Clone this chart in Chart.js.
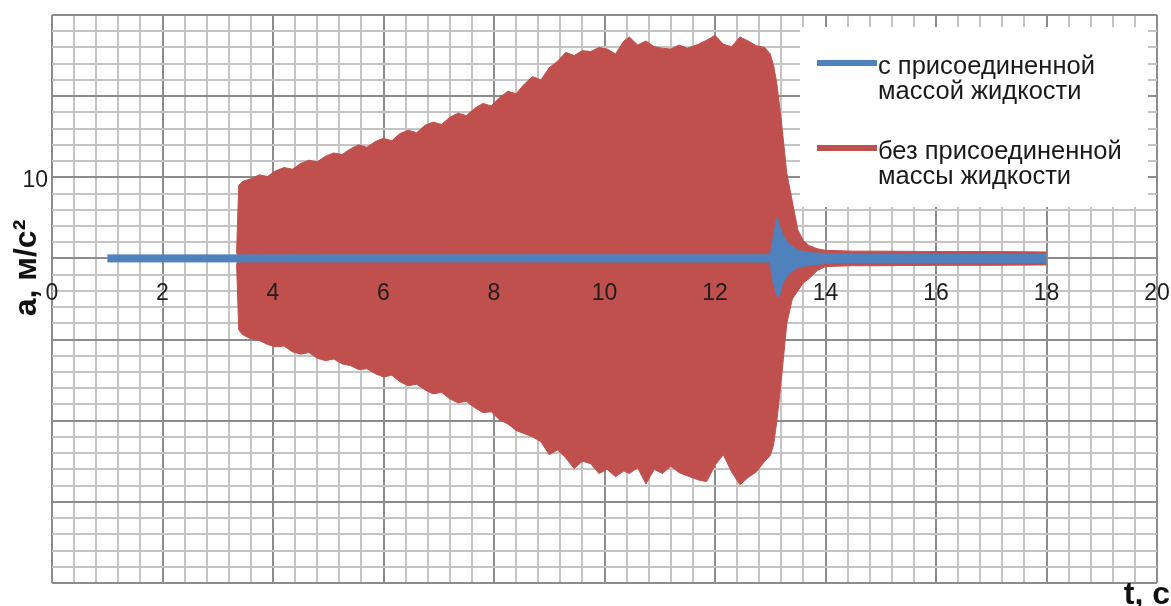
<!DOCTYPE html>
<html lang="ru">
<head>
<meta charset="utf-8">
<title>Ускорение</title>
<script src="https://cdn.jsdelivr.net/npm/chart.js@4.4.0/dist/chart.umd.min.js"></script>
<style>
  html, body { margin: 0; padding: 0; background: #fff; }
  #wrap { width: 1171px; height: 606px; position: relative; }
</style>
</head>
<body>
<div id="wrap"><canvas id="myChart"></canvas></div>
<script>
// Данные: огибающие сигналов, t в секундах, a в м/с²
// без присоединенной массы жидкости — верхняя и нижняя огибающие
const redT = [3.34, 3.38, 3.45, 3.6, 3.75, 3.9, 4.05, 4.2, 4.35, 4.5, 4.65, 4.8, 4.95, 5.1, 5.25, 5.4,
  5.55, 5.7, 5.85, 6.0, 6.15, 6.3, 6.45, 6.6, 6.75, 6.9, 7.05, 7.2, 7.35, 7.5, 7.65, 7.8, 7.95, 8.1,
  8.25, 8.4, 8.55, 8.7, 8.85, 9.0, 9.15, 9.3, 9.45, 9.6, 9.75, 9.9, 10.05, 10.2, 10.35, 10.45, 10.6,
  10.75, 10.9, 11.05, 11.2, 11.35, 11.5, 11.7, 11.85, 12.0, 12.15, 12.3, 12.45, 12.6, 12.75, 12.9,
  13.0, 13.06, 13.12, 13.2, 13.3, 13.4, 13.5, 13.6, 13.7, 13.85, 14.0, 14.5, 15.0, 16.0, 17.0, 18.0];
const redUp = [0.6, 9.0, 9.5, 9.8, 10.3, 10.1, 10.8, 11.2, 11.0, 11.7, 12.1, 11.9, 12.6, 13.0, 12.8, 13.5,
  14.0, 13.7, 14.4, 14.8, 14.5, 15.4, 15.8, 15.5, 16.4, 16.8, 16.5, 17.4, 17.9, 17.6, 18.5, 19.1, 18.8, 19.8,
  20.6, 20.3, 21.5, 22.4, 22.0, 23.5, 24.3, 25.4, 25.0, 25.6, 25.5, 26.0, 25.8, 25.2, 26.8, 27.3, 26.3,
  26.8, 26.1, 25.9, 25.8, 26.3, 25.9, 26.4, 26.9, 27.5, 26.4, 26.1, 27.3, 26.8, 26.2, 26.0,
  25.2, 23.8, 21.5, 17.0, 10.5, 7.0, 3.5, 2.2, 1.6, 1.2, 1.0, 0.9, 0.9, 0.85, 0.85, 0.8];
const redLo = [-0.6, -8.8, -9.4, -9.9, -10.1, -10.6, -10.9, -10.8, -11.5, -11.8, -11.6, -12.3, -12.6, -12.4, -13.0, -13.2,
  -13.7, -13.6, -14.2, -14.6, -14.4, -15.2, -15.7, -15.5, -16.2, -16.7, -16.5, -17.3, -17.8, -17.6, -18.4, -19.0, -18.9, -19.9,
  -20.4, -21.2, -21.6, -22.0, -22.6, -24.2, -23.6, -24.6, -25.9, -25.0, -25.3, -26.5, -26.0, -26.9, -26.2, -26.5, -25.8,
  -27.8, -26.0, -26.5, -25.6, -26.4, -26.8, -27.3, -27.5, -25.5, -24.2, -26.3, -27.9, -27.0, -26.3, -25.0,
  -24.3, -23.0, -20.0, -15.0, -8.0, -5.0, -4.0, -3.0, -2.5, -1.5, -1.0, -0.9, -0.9, -0.85, -0.85, -0.8];

// с присоединенной массой жидкости
const blueT = [1.0, 13.0, 13.03, 13.08, 13.12, 13.16, 13.22, 13.32, 13.5, 13.75, 14.1, 18.0];
const blueUp = [0.43, 0.45, 1.7, 3.6, 5.1, 4.2, 3.0, 1.9, 1.0, 0.7, 0.55, 0.5];
const blueLo = [-0.43, -0.45, -2.3, -3.6, -4.6, -4.8, -3.2, -2.0, -1.1, -0.8, -0.55, -0.5];

// Подписи делений и легенда
const xTickLabels = [0, 2, 4, 6, 8, 10, 12, 14, 16, 18, 20];
const yTickLabels = [10];
const legendLabels = [
  ["с присоединенной", "массой жидкости"],
  ["без присоединенной", "массы жидкости"],
];
const yTitle = "а, м/с²";
const xTitle = "t, с";

// Цвета
const BLUE = "#4F81BD";
const RED = "#C0504D";
const MAJOR = "#8c8c8c";
const MINOR = "#c4c4c4";
const FONT = "'Liberation Sans', Arial, sans-serif";

function toPoints(ts, vs) {
  return ts.map((t, i) => ({ x: t, y: vs[i] }));
}

function isMajor(v, step) {
  return Math.abs(v / step - Math.round(v / step)) < 1e-6;
}

function hasLabel(list, v) {
  return list.some((l) => Math.abs(l - v) < 1e-6);
}

// Легенда и подписи осей рисуются поверх
const overlayPlugin = {
  id: "overlay",
  afterDatasetsDraw(chart) {
    const ctx = chart.ctx;
    const ca = chart.chartArea;
    ctx.save();

    // белое поле легенды
    const bx = ca.right - 357;
    const by = ca.top + 12;
    ctx.fillStyle = "#fff";
    ctx.fillRect(bx, by, 348, 180);

    const colors = [BLUE, RED];
    const rows = [by + 36, by + 121];
    ctx.font = "25.5px " + FONT;
    ctx.textAlign = "left";
    ctx.textBaseline = "alphabetic";
    legendLabels.forEach((lines, i) => {
      ctx.fillStyle = colors[i];
      ctx.fillRect(bx + 17, rows[i] - 3, 60, 6);
      ctx.fillStyle = "#1a1a1a";
      lines.forEach((s, j) => {
        ctx.fillText(s, bx + 78, rows[i] + 11 + j * 25);
      });
    });

    // подпись оси Y
    ctx.font = "bold 32px " + FONT;
    ctx.fillStyle = "#111";
    ctx.save();
    ctx.translate(27, 268);
    ctx.rotate(-Math.PI / 2);
    ctx.textAlign = "center";
    ctx.textBaseline = "middle";
    ctx.fillText(yTitle, 0, 0);
    ctx.restore();

    // подпись оси X
    ctx.textAlign = "right";
    ctx.textBaseline = "alphabetic";
    ctx.fillText(xTitle, chart.width - 1, chart.height - 2);

    ctx.restore();
  },
};

const chart = new Chart(document.getElementById("myChart"), {
  type: "line",
  data: {
    datasets: [
      {
        label: legendLabels[0].join(" "),
        data: toPoints(blueT, blueUp),
        borderColor: BLUE,
        backgroundColor: BLUE,
        borderWidth: 1,
        pointRadius: 0,
        tension: 0,
        fill: "+1",
      },
      {
        label: "blue-low",
        data: toPoints(blueT, blueLo),
        borderColor: BLUE,
        borderWidth: 1,
        pointRadius: 0,
        tension: 0,
        fill: false,
      },
      {
        label: legendLabels[1].join(" "),
        data: toPoints(redT, redUp),
        borderColor: RED,
        backgroundColor: RED,
        borderWidth: 1,
        pointRadius: 0,
        tension: 0,
        fill: "+1",
      },
      {
        label: "red-low",
        data: toPoints(redT, redLo),
        borderColor: RED,
        borderWidth: 1,
        pointRadius: 0,
        tension: 0,
        fill: false,
      },
    ],
  },
  options: {
    responsive: true,
    maintainAspectRatio: false,
    animation: false,
    layout: { padding: { top: 15, right: 14, bottom: 23, left: 0 } },
    plugins: {
      legend: { display: false },
      tooltip: { enabled: false },
    },
    scales: {
      x: {
        type: "linear",
        min: 0,
        max: 20,
        position: { y: 0 },
        afterFit(scale) {
          // подписи не должны сдвигать область графика
          scale.paddingLeft = 0;
          scale.paddingRight = 0;
        },
        border: { display: false },
        grid: {
          color: (c) => (isMajor(c.tick.value, 2) ? MAJOR : MINOR),
          lineWidth: 2,
          drawTicks: false,
        },
        ticks: {
          stepSize: 0.4,
          autoSkip: false,
          maxTicksLimit: 1000,
          maxRotation: 0,
          padding: 21,
          z: 1,
          color: "#1e1e1e",
          font: { family: FONT, size: 23 },
          callback: (v) => (hasLabel(xTickLabels, v) ? String(Math.round(v)) : ""),
        },
      },
      y: {
        type: "linear",
        min: -40,
        max: 30,
        afterFit(scale) {
          scale.width = 52;
          scale.paddingTop = 0;
          scale.paddingBottom = 0;
        },
        border: { display: false },
        grid: {
          color: (c) => (isMajor(c.tick.value, 10) ? MAJOR : MINOR),
          lineWidth: 2,
          drawTicks: false,
        },
        ticks: {
          stepSize: 2,
          autoSkip: false,
          maxTicksLimit: 1000,
          padding: 4,
          labelOffset: 3,
          color: "#1e1e1e",
          font: { family: FONT, size: 23 },
          callback: (v) => (hasLabel(yTickLabels, v) ? String(v) : ""),
        },
      },
    },
  },
  plugins: [overlayPlugin],
});
</script>
</body>
</html>
